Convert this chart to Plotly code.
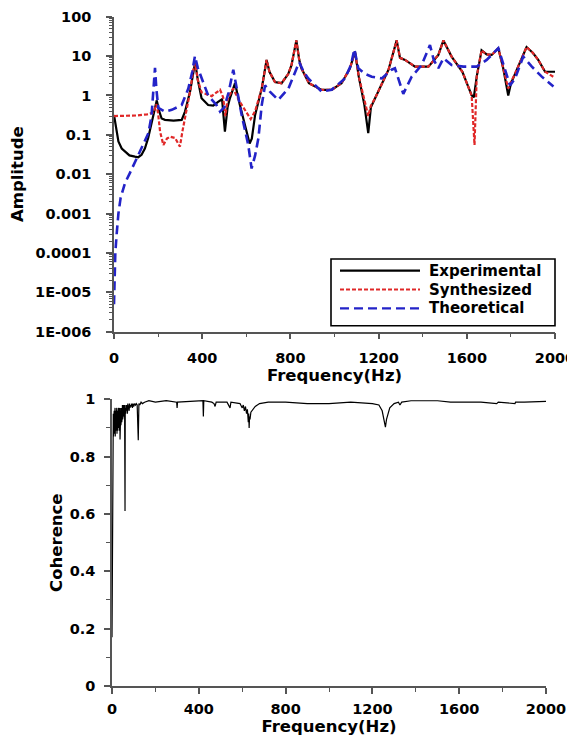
import plotly.graph_objects as go

# ---------------- data ----------------
exp_freq = [0, 10, 20, 35, 50, 70, 95, 110, 125, 140, 155, 175, 186, 194, 205, 216, 231, 270, 307,
            322, 345, 360, 368, 380, 397, 427, 450, 472, 490, 503, 515, 526, 549, 570, 595, 615,
            625, 640, 670, 692, 705, 730, 760, 790, 805, 827, 840, 850, 884, 942, 987, 1032, 1070,
            1093, 1110, 1135, 1153, 1165, 1184, 1245, 1282, 1297, 1320, 1365, 1426, 1471, 1494,
            1531, 1580, 1622, 1632, 1645, 1667, 1690, 1713, 1743, 1765, 1788, 1800, 1819, 1871,
            1900, 1924, 1955, 2000]
exp_amp = [0.32, 0.15, 0.068, 0.045, 0.037, 0.030, 0.028, 0.027, 0.031, 0.045, 0.083, 0.25, 0.48,
           0.75, 0.40, 0.26, 0.24, 0.23, 0.24, 0.39, 1.25, 4.5, 7.0, 2.5, 0.85, 0.57, 0.55, 0.69,
           0.80, 0.12, 0.50, 0.86, 2.05, 0.60, 0.15, 0.06, 0.08, 0.32, 1.5, 8.0, 4.0, 2.2, 2.05,
           3.5, 5.9, 25, 8, 4.9, 2.05, 1.38, 1.38, 2.05, 4.9, 13, 3.0, 0.6, 0.11, 0.5, 0.85, 4.5,
           25, 9, 8, 5.4, 5.4, 10.7, 25, 9.7, 4.0, 1.0, 0.9, 3.0, 14, 11, 10.7, 15.8, 5.0, 1.0,
           2.0, 3.6, 17, 12, 8, 4, 4]

syn_freq = [0, 50, 100, 150, 180, 192, 200, 209, 224, 240, 254, 277, 299, 310, 322, 345, 360, 368,
            380, 397, 443, 481, 495, 505, 515, 540, 570, 602, 620, 640, 670, 692, 705, 730, 760,
            790, 805, 827, 840, 850, 884, 942, 987, 1032, 1070, 1093, 1110, 1135, 1153, 1165, 1184,
            1245, 1282, 1297, 1320, 1365, 1426, 1471, 1494, 1531, 1580, 1622, 1635, 1645, 1667,
            1690, 1713, 1743, 1765, 1788, 1800, 1819, 1871, 1900, 1924, 1955, 2000]
syn_amp = [0.30, 0.30, 0.31, 0.33, 0.37, 0.6, 0.35, 0.12, 0.055, 0.08, 0.09, 0.083, 0.05, 0.12,
           0.27, 1.25, 4.5, 6.5, 2.5, 1.2, 0.96, 1.4, 0.9, 0.3, 0.8, 1.5, 0.7, 0.36, 0.25, 0.4,
           1.5, 8.0, 4.0, 2.2, 2.05, 3.5, 5.9, 25, 8, 4.9, 2.05, 1.38, 1.38, 2.05, 4.9, 13, 3.0,
           0.8, 0.3, 0.55, 0.85, 4.5, 25, 9, 8, 5.4, 5.4, 10.7, 25, 9.7, 4.0, 1.0, 0.055, 3.0, 14,
           11, 10.7, 15.8, 5.0, 1.5, 2.2, 3.6, 17, 12, 8, 4, 2.8]

the_freq = [0, 3, 6, 12, 20, 30, 50, 73, 95, 118, 140, 156, 170, 180, 186, 192, 201, 231, 262, 307,
            337, 355, 367, 380, 397, 427, 465, 481, 500, 520, 541, 560, 579, 609, 624, 640, 655,
            670, 685, 707, 745, 791, 821, 840, 860, 881, 942, 987, 1048, 1075, 1090, 1108, 1140,
            1169, 1214, 1259, 1274, 1295, 1312, 1350, 1395, 1433, 1450, 1471, 1494, 1531, 1584,
            1645, 1690, 1743, 1773, 1796, 1819, 1856, 1895, 1940, 1993]
the_amp = [5e-6, 3e-5, 1e-4, 3e-4, 1e-3, 2.5e-3, 6e-3, 0.011, 0.02, 0.041, 0.07, 0.11, 0.3, 1.5, 5,
           1.5, 0.48, 0.39, 0.43, 0.57, 1.5, 4, 10, 5, 2.7, 1.0, 0.57, 0.39, 0.5, 1.2, 4.5, 1.2,
           0.32, 0.055, 0.014, 0.03, 0.083, 0.57, 1.8, 1.25, 0.77, 1.5, 4, 7, 4, 2.7, 1.25, 1.4,
           2.7, 6, 15, 4.9, 3.5, 3.0, 2.7, 4.5, 4.9, 2.0, 1.1, 3.0, 5.9, 19, 8, 4.9, 8.8, 5.9,
           5.4, 5.4, 8, 15.8, 4.9, 1.8, 2.7, 9.7, 5.4, 3.0, 1.7]

coh_freq = [0, 2, 3, 4, 5, 6, 7, 8, 9, 10, 11, 12, 13, 14, 15, 16, 17, 18, 19, 20, 21, 22, 23, 24,
            25, 26, 27, 28, 29, 30, 31, 32, 33, 34, 35, 36, 37, 38, 39, 40, 41, 42, 43, 44, 45, 46,
            47, 48, 49, 50, 51, 52, 53, 54, 55, 56, 57, 58, 60, 61, 63, 65, 67, 69, 71, 73, 75, 77,
            79, 81, 83, 85, 88, 91, 94, 97, 100, 104, 108, 112, 116, 121, 124, 128, 134, 140, 150,
            170, 200, 250, 298, 300, 302, 350, 400, 419, 421, 423, 460, 470, 475, 480, 530, 544,
            548, 590, 600, 605, 610, 615, 620, 624, 628, 630, 632, 634, 636, 640, 645, 660, 680,
            720, 800, 900, 1000, 1100, 1200, 1230, 1245, 1255, 1260, 1265, 1280, 1300, 1320, 1327,
            1335, 1378, 1440, 1500, 1560, 1620, 1700, 1773, 1780, 1857, 1860, 1900, 2000]
coh_val = [0.17, 0.5, 0.77, 0.92, 0.88, 0.95, 0.87, 0.93, 0.89, 0.96, 0.88, 0.94, 0.9, 0.97, 0.87,
           0.95, 0.91, 0.96, 0.89, 0.94, 0.90, 0.97, 0.88, 0.95, 0.92, 0.96, 0.89, 0.94, 0.91,
           0.97, 0.9, 0.95, 0.92, 0.97, 0.89, 0.96, 0.86, 0.95, 0.92, 0.97, 0.91, 0.96, 0.93, 0.97,
           0.92, 0.96, 0.94, 0.98, 0.93, 0.96, 0.94, 0.97, 0.95, 0.98, 0.94, 0.97, 0.95, 0.98,
           0.61, 0.97, 0.95, 0.98, 0.96, 0.98, 0.95, 0.985, 0.97, 0.98, 0.96, 0.985, 0.97, 0.98,
           0.975, 0.985, 0.97, 0.985, 0.975, 0.985, 0.98, 0.985, 0.98, 0.857, 0.985, 0.98, 0.99,
           0.985, 0.99, 0.995, 0.99, 0.995, 0.99, 0.97, 0.99, 0.993, 0.995, 0.995, 0.94, 0.995,
           0.99, 0.985, 0.975, 0.99, 0.99, 0.97, 0.99, 0.985, 0.97, 0.98, 0.96, 0.975, 0.95, 0.965,
           0.92, 0.95, 0.90, 0.94, 0.93, 0.955, 0.96, 0.975, 0.985, 0.99, 0.99, 0.985, 0.985, 0.99,
           0.985, 0.98, 0.96, 0.92, 0.903, 0.93, 0.97, 0.985, 0.99, 0.98, 0.99, 0.995, 0.995,
           0.995, 0.99, 0.99, 0.99, 0.985, 0.99, 0.985, 0.99, 0.99, 0.993]

amp_tickvals = [1e-6, 1e-5, 1e-4, 1e-3, 1e-2, 0.1, 1, 10, 100]
amp_ticktext = ["1E-006", "1E-005", "0.0001", "0.001", "0.01", "0.1", "1", "10", "100"]
series_names = ["Experimental", "Synthesized", "Theoretical"]

# ---------------- styling ----------------
OFF = 8                      # page body margin of the html page
W, H = 575 - OFF, 739 - OFF
FONT = "DejaVu Sans"
AXC = "#555555"
RED = "#e02828"
BLUE = "#2323c8"
styles = [dict(color="black", width=2.2, dash="solid"),
          dict(color=RED, width=2.2, dash="4px,2px"),
          dict(color=BLUE, width=2.6, dash="9px,5px")]

fig = go.Figure()
for name, fx, fy, st in zip(series_names, [exp_freq, syn_freq, the_freq],
                            [exp_amp, syn_amp, the_amp], styles):
    fig.add_trace(go.Scatter(x=fx, y=fy, mode="lines", name=name, line=st,
                             xaxis="x", yaxis="y", showlegend=False))
fig.add_trace(go.Scatter(x=coh_freq, y=coh_val, mode="lines", name="Coherence",
                         line=dict(color="black", width=1.2), xaxis="x2", yaxis="y2",
                         showlegend=False))

tickfont = dict(family=FONT, size=14.5, color="black", weight="bold")
titlefont = dict(family=FONT, size=16.5, color="black", weight="bold")


def px_x(p):
    return (p - OFF) / W


def px_y(p):
    return 1 - (p - OFF) / H


common = dict(showline=True, linecolor=AXC, linewidth=1.5, ticks="outside", ticklen=6,
              tickwidth=1.5, tickcolor=AXC, showgrid=False, zeroline=False,
              tickfont=tickfont, automargin=False, ticklabeloverflow="allow")

fig.update_layout(
    width=W, height=H, margin=dict(l=0, r=0, t=0, b=0),
    paper_bgcolor="white", plot_bgcolor="white", showlegend=False,
    xaxis=dict(domain=[px_x(114), px_x(555)], range=[0, 2000], anchor="y",
               tick0=0, dtick=400, tickformat="d", ticklabelstandoff=6,
               minor=dict(ticks="outside", ticklen=4, dtick=200, tickcolor=AXC, tickwidth=1.2),
               title=dict(text="Frequency(Hz)", font=titlefont, standoff=4), **common),
    yaxis=dict(domain=[px_y(331.7), px_y(16.7)], type="log", range=[-6, 2], anchor="x",
               tickmode="array", tickvals=amp_tickvals, ticktext=amp_ticktext,
               ticklabelstandoff=12,
               minor=dict(ticks="outside", ticklen=3, tickcolor=AXC, tickwidth=1,
                          tickvals=[k * 10 ** e for e in range(-6, 2) for k in range(2, 10)]),
               title=dict(text="Amplitude", font=titlefont, standoff=12), **common),
    xaxis2=dict(domain=[px_x(112), px_x(546)], range=[0, 2000], anchor="y2",
                tick0=0, dtick=400, tickformat="d", ticklabelstandoff=3,
                minor=dict(ticks="outside", ticklen=4, dtick=200, tickcolor=AXC, tickwidth=1.2),
                title=dict(text="Frequency(Hz)", font=titlefont, standoff=2), **common),
    yaxis2=dict(domain=[px_y(686), px_y(399.3)], range=[0, 1], anchor="x2",
                tick0=0, dtick=0.2, ticklabelstandoff=6,
                minor=dict(ticks="outside", ticklen=4, dtick=0.1, tickcolor=AXC, tickwidth=1.2),
                title=dict(text="Coherence", font=titlefont, standoff=3), **common),
)

# legend box drawn in paper space
shapes = [dict(type="rect", xref="paper", yref="paper",
               x0=px_x(331), x1=px_x(555), y0=px_y(325.7), y1=px_y(259),
               line=dict(color="black", width=1.6), fillcolor="white", layer="above")]
annotations = []
rows = [270.7, 289.5, 308.3]
for name, st, ry in zip(series_names, styles, rows):
    shapes.append(dict(type="line", xref="paper", yref="paper", x0=px_x(340), x1=px_x(420),
                       y0=px_y(ry), y1=px_y(ry), line=dict(color=st["color"], width=2.2,
                                                           dash=st["dash"]), layer="above"))
    annotations.append(dict(text=name, xref="paper", yref="paper", x=px_x(427), y=px_y(ry),
                            xanchor="left", yanchor="middle", showarrow=False,
                            font=dict(family=FONT, size=15, color="black", weight="bold")))
fig.update_layout(shapes=shapes, annotations=annotations)

fig.write_html("out.html")
